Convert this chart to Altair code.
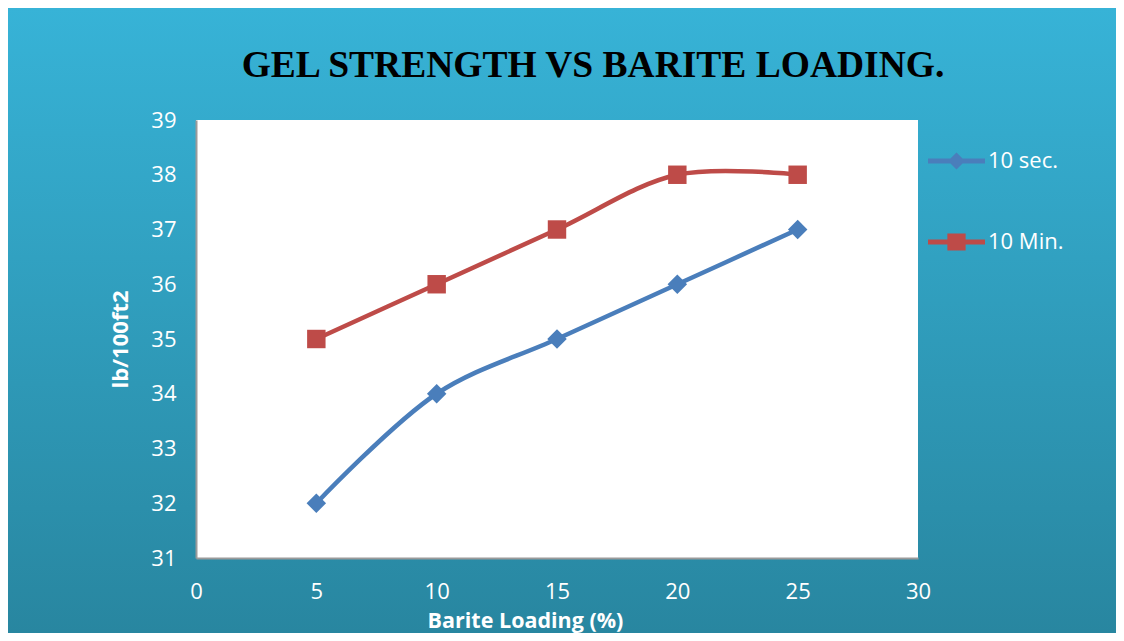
import altair as alt
import pandas as pd

# ---- data ----
loading = [5, 10, 15, 20, 25]
gel_10sec = [32, 34, 35, 36, 37]
gel_10min = [35, 36, 37, 38, 38]
series_names = ["10 sec.", "10 Min."]
x_ticks = [0, 5, 10, 15, 20, 25, 30]
y_ticks = [31, 32, 33, 34, 35, 36, 37, 38, 39]

BLUE = "#4A7EBB"
RED = "#BE4B48"
W, H = 722, 438
PL, PT = 188, 112
PR = 1108 - PL - W
PB = 625 - PT - H

df1 = pd.DataFrame({"x": loading, "y": gel_10sec, "series": series_names[0]})
df2 = pd.DataFrame({"x": loading, "y": gel_10min, "series": series_names[1]})
one = pd.DataFrame({"a": [0]})

xs = alt.Scale(domain=[0, 30], nice=False)
ys = alt.Scale(domain=[31, 39], nice=False, zero=False)

xaxis = alt.Axis(values=x_ticks, title="Barite Loading (%)", grid=False, ticks=False,
                 labelPadding=23, labelFlush=False, domainColor="#9A9A9A", domainWidth=2,
                 zindex=2, titleX=329, titleY=69, titleBaseline="alphabetic",
                 titleFontSize=21.5)
yaxis = alt.Axis(values=y_ticks, title="lb/100ft2", grid=False, ticks=False,
                 labelPadding=20, labelFlush=False, domainColor="#9A9A9A", domainWidth=2,
                 zindex=2, titlePadding=18)

bg = alt.Chart(one).mark_rect(
    color=alt.Gradient(gradient="linear", x1=0, y1=0, x2=0, y2=1,
                       stops=[alt.GradientStop(offset=0, color="#37B3D7"),
                              alt.GradientStop(offset=1, color="#2886A0")])
).encode(x=alt.value(-PL), x2=alt.value(W + PR), y=alt.value(-PT), y2=alt.value(H + PB))

plotbg = alt.Chart(one).mark_rect(color="white").encode(
    x=alt.value(0), x2=alt.value(W), y=alt.value(0), y2=alt.value(H))

blue_sym = "M-1,-0.09L1,-0.09L1,0.09L-1,0.09Z M0,-0.3L0.3,0L0,0.3L-0.3,0Z"
red_sym = "M-1,-0.09L1,-0.09L1,0.09L-1,0.09Z M-0.32,-0.3L0.32,-0.3L0.32,0.3L-0.32,0.3Z"


def series_layer(df, color, shape, size, sym, ly):
    base = alt.Chart(df)
    line = base.mark_line(color=color, strokeWidth=4.5, interpolate="catmull-rom").encode(
        x=alt.X("x:Q", scale=xs, axis=xaxis),
        y=alt.Y("y:Q", scale=ys, axis=yaxis))
    pts = base.mark_point(filled=True, shape=shape, size=size, opacity=1, strokeWidth=0).encode(
        x=alt.X("x:Q", scale=xs, axis=xaxis),
        y=alt.Y("y:Q", scale=ys, axis=yaxis),
        color=alt.Color("series:N",
                        scale=alt.Scale(domain=[df["series"][0]], range=[color]),
                        legend=alt.Legend(title=None, orient="none", legendX=732, legendY=ly,
                                          symbolType=sym, symbolSize=3249, symbolStrokeWidth=0,
                                          symbolOpacity=1, padding=0, labelOffset=3,
                                          labelFontSize=22, labelColor="white",
                                          labelFont="Open Sans")))
    return alt.layer(line, pts)


s1 = series_layer(df1, BLUE, "diamond", 380, blue_sym, 12.5)
s2 = series_layer(df2, RED, "square", 340, red_sym, 93.5)

chart = alt.layer(bg, plotbg, s1, s2).resolve_scale(color="independent").properties(
    width=W, height=H,
    padding={"left": PL, "top": PT, "right": PR, "bottom": PB},
    autosize=alt.AutoSizeParams(type="none"),
    background="#2FA0C0",
    title=alt.TitleParams("GEL STRENGTH VS BARITE LOADING.", font="Liberation Serif",
                          fontSize=37.5, fontWeight="bold", color="black", anchor="middle",
                          frame="group", dx=36, offset=-106, baseline="alphabetic"),
).configure_axis(
    labelFont="Open Sans", labelFontSize=22, labelColor="white",
    titleFont="Open Sans", titleFontSize=22, titleFontWeight="bold", titleColor="white",
).configure_view(stroke=None)

chart.save("out.html", embed_options={"renderer": "svg", "actions": False})
